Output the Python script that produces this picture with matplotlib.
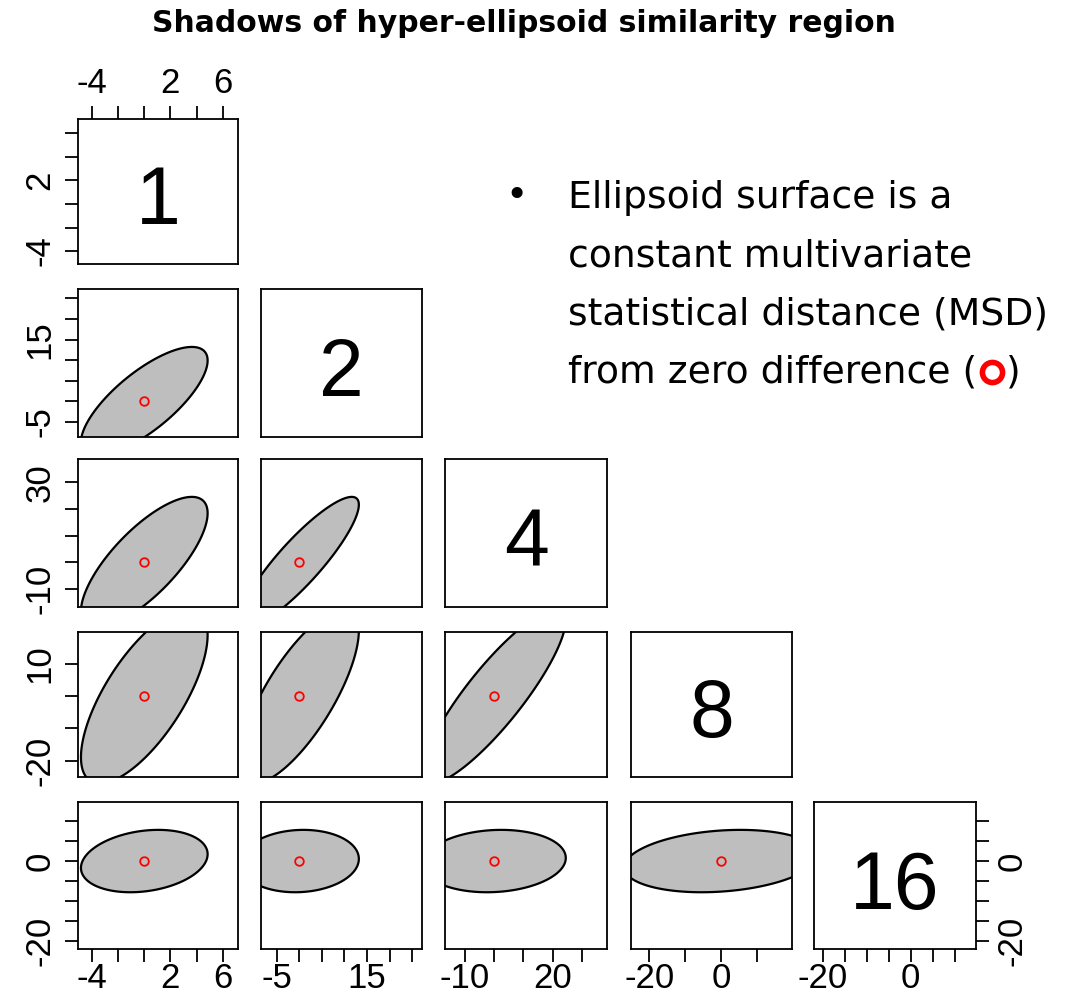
import numpy as np
import matplotlib
matplotlib.use("Agg")
import matplotlib.pyplot as plt
from matplotlib.lines import Line2D

# ---------------- data ----------------
dims = ["1", "2", "4", "8", "16"]
half_extent = [4.85, 13.2, 24.5, 27.0, 7.8]          # projection half-widths of the ellipsoid
axis_lo = [-5.1, -8.6, -16.7, -25.1, -22.0]
axis_hi = [7.2, 27.2, 38.6, 19.9, 14.7]
ticks = [
    [-4, -2, 0, 2, 4, 6],
    [-5, 0, 5, 10, 15, 20, 25],
    [-10, 0, 10, 20, 30],
    [-20, -10, 0, 10],
    [-20, -15, -10, -5, 0, 5, 10],
]
bottom_labels = [[-4, 2, 6], [-5, 15], [-10, 20], [-20, 0], [-20, 0]]
left_labels = [[-4, 2], [-5, 15], [-10, 30], [-20, 10], [-20, 0]]
top_labels_var1 = [-4, 2, 6]
right_labels_var16 = [-20, 0]
# lower-triangle correlations between the projected coordinates
corr = [
    [1.0],
    [0.75, 1.0],
    [0.75, 0.88, 1.0],
    [0.70, 0.75, 0.87, 1.0],
    [0.22, 0.07, 0.10, 0.20, 1.0],
]
center = (0.0, 0.0)
title = "Shadows of hyper-ellipsoid similarity region"
note_lines = ["Ellipsoid surface is a", "constant multivariate",
              "statistical distance (MSD)", "from zero difference ("]

# ---------------- layout ----------------
W, H = 1066, 994
fig = plt.figure(figsize=(W / 100, H / 100), dpi=100)
fig.patch.set_facecolor("white")

col_left = [77.7, 260.5, 445.3, 631.0, 813.7]
col_w = [160.6, 161.5, 161.7, 161.3, 162.0]
row_top = [119.3, 289.3, 459.3, 631.7, 802.3]
row_h = [144.7, 147.4, 147.4, 145.6, 146.7]

FONT = "Liberation Sans"
TICKFS = 25
TICKLEN = 9.1
LW = 1.3

def fmt(v):
    return "-" + str(abs(v)) if v < 0 else str(v)

def labels_for(tk, shown):
    return [fmt(t) if t in shown else "" for t in tk]

def add_ax(r, c):
    l, t, w, h = col_left[c], row_top[r], col_w[c], row_h[r]
    ax = fig.add_axes([l / W, 1 - (t + h) / H, w / W, h / H])
    ax.set_xlim(axis_lo[c], axis_hi[c])
    ax.set_ylim(axis_lo[r], axis_hi[r])
    for s in ax.spines.values():
        s.set_linewidth(LW)
    ax.tick_params(which="both", bottom=False, top=False, left=False, right=False,
                   labelbottom=False, labeltop=False, labelleft=False, labelright=False,
                   length=TICKLEN, width=LW, direction="out")
    return ax

n = len(dims)
t = np.linspace(0, 2 * np.pi, 400)
for r in range(n):
    for c in range(r + 1):
        ax = add_ax(r, c)
        if r == c:
            ax.text(0.5, 0.275, dims[r], transform=ax.transAxes, ha="center",
                    va="baseline", fontsize=58, family=FONT)
        else:
            a, b, rho = half_extent[c], half_extent[r], corr[r][c]
            xs = center[0] + a * np.cos(t)
            ys = center[1] + b * (rho * np.cos(t) + np.sqrt(1 - rho ** 2) * np.sin(t))
            ax.fill(xs, ys, facecolor="#bebebe", edgecolor="black", linewidth=1.6, zorder=2)
            ax.plot([center[0]], [center[1]], marker="o", ms=6.2, mfc="none",
                    mec="red", mew=1.3, zorder=3)
        # axes
        if c == 0:
            ax.set_yticks(ticks[r])
            ax.set_yticklabels(labels_for(ticks[r], left_labels[r]), rotation=90,
                               va="center", fontsize=TICKFS, family=FONT)
            ax.tick_params(axis="y", left=True, labelleft=True, pad=6.0)
        if r == n - 1:
            ax.set_xticks(ticks[c])
            ax.set_xticklabels(labels_for(ticks[c], bottom_labels[c]),
                               fontsize=TICKFS, family=FONT)
            ax.tick_params(axis="x", bottom=True, labelbottom=True, pad=0.5)
        if r == 0 and c == 0:
            ax.set_xticks(ticks[0])
            ax.set_xticklabels(labels_for(ticks[0], top_labels_var1),
                               fontsize=TICKFS, family=FONT)
            ax.tick_params(axis="x", top=True, labeltop=True, pad=4.9)
        if r == n - 1 and c == n - 1:
            ax.set_yticks(ticks[r])
            ax.set_yticklabels(labels_for(ticks[r], right_labels_var16), rotation=90,
                               va="center", fontsize=TICKFS, family=FONT)
            ax.tick_params(axis="y", right=True, labelright=True, left=False,
                           labelleft=False, pad=5.3)

# title
fig.text(523.5 / W, 1 - 23 / H, title, ha="center", va="center", fontsize=21.5,
         fontweight="bold", family="DejaVu Sans")

# bullet note
NOTEFONT = "DejaVu Sans"
NOTEFS = 27.2
x0 = 567.7 / W
baselines = [207.5, 266.5, 325.0, 383.0]
fig.text(516.7 / W, 1 - (baselines[0] - 1) / H, "\u2022", ha="center", va="baseline",
         fontsize=NOTEFS, family=NOTEFONT)
txts = []
for line, yb in zip(note_lines, baselines):
    txts.append(fig.text(x0, 1 - yb / H, line, ha="left", va="baseline",
                         fontsize=NOTEFS, family=NOTEFONT))

fig.canvas.draw()
bb = txts[-1].get_window_extent()
ring_x = bb.x1 + 15
ring_y = H - baselines[-1] + 11
fig.add_artist(Line2D([ring_x / W], [ring_y / H], marker="o", ms=14.5, mfc="none",
                      mec="#ff0000", mew=4.0, transform=fig.transFigure))
fig.text((ring_x + 14) / W, 1 - baselines[-1] / H, ")", ha="left", va="baseline",
         fontsize=NOTEFS, family=NOTEFONT)

fig.savefig("out.png", dpi=100, facecolor="white")
